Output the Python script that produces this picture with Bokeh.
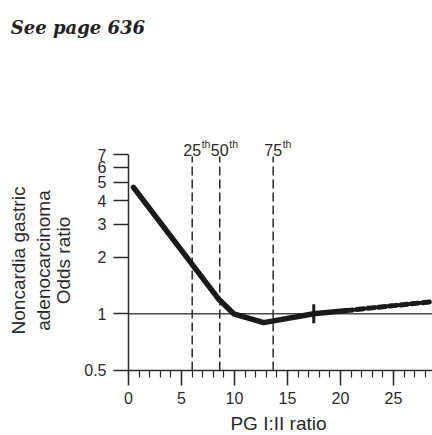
import math
from bokeh.plotting import figure
from bokeh.models import Range1d, FixedTicker, CustomJSTickFormatter, Label
from bokeh.core.properties import value
from bokeh.embed import file_html
from bokeh.resources import INLINE

# ---- data ----
x_major_ticks = [0, 5, 10, 15, 20, 25]
x_tick_labels = ["0", "5", "10", "15", "20", "25"]
x_minor_ticks = list(range(0, 29))
y_ticks = [0.5, 1, 2, 3, 4, 5, 6, 7]
y_tick_labels = ["0.5", "1", "2", "3", "4", "5", "6", "7"]
x_max = 28.68
y_min, y_max = 0.5, 7

curve_x = [0.47, 8.49, 9.93, 12.76, 17.48, 20.5]
curve_or = [4.70, 1.20, 1.00, 0.898, 1.00, 1.04]
tail_x = [20.5, 24.0, 28.68]
tail_or = [1.04, 1.09, 1.16]
knot_x = [17.48]
knot_or = [1.00]

pct_x = [6.01, 8.61, 13.65]
pct_labels = ["25", "50", "75"]
pct_sup = ["th", "th", "th"]

y_title_lines = ["Noncardia gastric", "adenocarcinoma", "Odds ratio"]
y_title_x = [-10.38, -8.02, -6.13]

FONT = "Liberation Sans"
INK = "#2a2a2a"

# frame covers the whole canvas; axes are pinned at x = 0 and y = 0.5
p = figure(width=432, height=435,
           x_range=Range1d(-12.075, x_max), y_range=Range1d(0.2255, 46.3),
           y_axis_type="log",
           output_backend="svg", toolbar_location=None,
           min_border_left=0, min_border_right=0,
           min_border_top=0, min_border_bottom=0)
p.outline_line_color = None
p.xgrid.visible = False
p.ygrid.visible = False
p.background_fill_color = "white"
p.border_fill_color = "white"

blank = CustomJSTickFormatter(code="return '';")

# x axis (ticks only; labels drawn as text below)
xa = p.xaxis[0]
xa.fixed_location = y_min
xa.ticker = FixedTicker(ticks=x_major_ticks, minor_ticks=x_minor_ticks)
xa.formatter = blank
xa.major_label_text_font_size = "0px"
xa.major_tick_out = 15
xa.major_tick_in = 0
xa.minor_tick_out = 7
xa.minor_tick_in = 0
xa.axis_line_color = None
xa.major_tick_line_color = INK
xa.major_tick_line_width = 1.5
xa.minor_tick_line_color = INK
xa.minor_tick_line_width = 1.2
xa.axis_label = None

# y axis (ticks only)
ya = p.yaxis[0]
ya.fixed_location = 0
ya.ticker = FixedTicker(ticks=y_ticks, minor_ticks=[])
ya.formatter = blank
ya.major_label_text_font_size = "0px"
ya.major_tick_out = 15
ya.major_tick_in = 0
ya.minor_tick_out = 0
ya.minor_tick_in = 0
ya.axis_line_color = None
ya.major_tick_line_color = INK
ya.major_tick_line_width = 1.5
ya.axis_label = None

# axis lines
p.segment(x0=[0], y0=[y_min], x1=[0], y1=[y_max], line_color=INK, line_width=1.5)
p.segment(x0=[0], y0=[y_min], x1=[x_max], y1=[y_min], line_color=INK, line_width=1.5)

# tick labels
p.text(x=[0] * len(y_ticks), y=y_ticks, text=y_tick_labels, x_offset=-22,
       text_align="right", text_baseline="middle", text_font=value(FONT),
       text_font_size="16px", text_color=INK)
p.text(x=x_major_ticks, y=[0.3548] * len(x_major_ticks), text=x_tick_labels,
       text_align="center", text_baseline="middle", text_font=value(FONT),
       text_font_size="16px", text_color=INK)

# x title
p.add_layout(Label(x=14.15, y=0.2614, text="PG I:II ratio", text_align="center",
                   text_baseline="middle", text_font=FONT, text_font_size="19px",
                   text_color=INK))

# reference line at OR = 1
p.segment(x0=[0], y0=[1], x1=[x_max], y1=[1], line_color="#4a4a4a", line_width=1.6)

# percentile dashed lines
p.segment(x0=pct_x, y0=[y_min] * len(pct_x), x1=pct_x, y1=[6.85] * len(pct_x),
          line_color=INK, line_width=1.5, line_dash="9 4")

# curve
p.line(curve_x, curve_or, line_color="#1a1a1a", line_width=5.5, line_cap="round", line_join="round")
p.line(tail_x, tail_or, line_color="#1a1a1a", line_width=5, line_cap="round", line_dash="7 4")
p.scatter(knot_x, knot_or, marker="dash", angle=math.pi / 2, size=19,
          line_color="#1a1a1a", line_width=3)

# percentile labels
for xv, lab, sup in zip(pct_x, pct_labels, pct_sup):
    p.add_layout(Label(x=xv, y=7.39, text=lab, text_align="center", text_baseline="alphabetic",
                       text_font=FONT, text_font_size="16px", text_color=INK))
    p.add_layout(Label(x=xv, y=7.96, x_offset=9.5, text=sup, text_align="left",
                       text_baseline="alphabetic", text_font=FONT, text_font_size="10.5px",
                       text_color=INK))

# y title (three rotated lines)
for xv, t in zip(y_title_x, y_title_lines):
    p.add_layout(Label(x=xv, y=1.92, text=t, angle=math.pi / 2, text_align="center",
                       text_baseline="middle", text_font=FONT, text_font_size="19px",
                       text_color=INK))

# header text
p.add_layout(Label(x=-11.1, y=33.3, text="See page 636", text_align="left",
                   text_baseline="alphabetic", text_font="DejaVu Serif",
                   text_font_style="bold italic", text_font_size="18px", text_color="#222222"))

open("out.html", "w").write(file_html(p, INLINE))
